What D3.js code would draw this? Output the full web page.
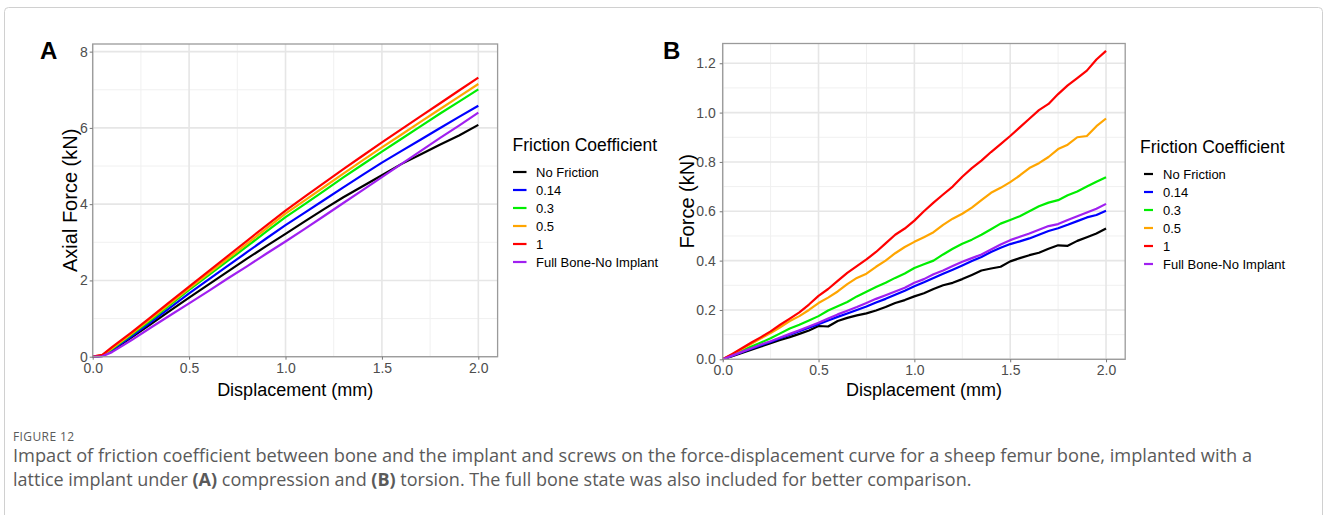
<!DOCTYPE html>
<html>
<head>
<meta charset="utf-8">
<script src="https://cdn.jsdelivr.net/npm/d3@7"></script>
<style>
  body { margin: 0; background: #fff; }
  svg text { font-family: "Liberation Sans", Arial, sans-serif; }
  .caption text { font-family: "Open Sans", "Noto Sans", sans-serif; }
</style>
</head>
<body>
<svg id="chart" width="1328" height="515"></svg>
<script>
// legend entries, drawn in this order
const seriesNames = ["No Friction", "0.14", "0.3", "0.5", "1", "Full Bone-No Implant"];
const seriesColors = ["#000000", "#0000ff", "#00ee00", "#ffa500", "#ff0000", "#a020f0"];

// panel A: compression, axial force (kN) vs displacement (mm)
const dispA = [0, 0.05, 0.1, 0.2, 0.3, 0.4, 0.5, 0.6, 0.7, 0.8, 0.9, 1.0, 1.1, 1.2, 1.3, 1.4, 1.5, 1.6, 1.7, 1.8, 1.9, 2.0];
const forceA_none = [0, 0.02, 0.16, 0.5, 0.85, 1.2, 1.55, 1.89, 2.23, 2.57, 2.9, 3.22, 3.55, 3.87, 4.18, 4.47, 4.76, 5.05, 5.3, 5.56, 5.8, 6.08];
const forceA_014 = [0, 0.02, 0.18, 0.53, 0.9, 1.28, 1.66, 2.02, 2.38, 2.74, 3.1, 3.45, 3.78, 4.11, 4.44, 4.77, 5.09, 5.39, 5.69, 5.99, 6.29, 6.58];
const forceA_03 = [0, 0.03, 0.2, 0.57, 0.95, 1.35, 1.75, 2.13, 2.51, 2.89, 3.28, 3.66, 4.0, 4.35, 4.7, 5.04, 5.38, 5.71, 6.04, 6.37, 6.69, 7.01];
const forceA_05 = [0, 0.04, 0.22, 0.6, 0.99, 1.39, 1.79, 2.18, 2.57, 2.96, 3.36, 3.75, 4.1, 4.45, 4.8, 5.15, 5.49, 5.82, 6.16, 6.49, 6.82, 7.15];
const forceA_1 = [0, 0.05, 0.25, 0.63, 1.03, 1.44, 1.84, 2.24, 2.64, 3.04, 3.44, 3.83, 4.2, 4.56, 4.92, 5.27, 5.62, 5.96, 6.3, 6.64, 6.98, 7.32];
const forceA_full = [0, 0.01, 0.12, 0.43, 0.76, 1.08, 1.4, 1.72, 2.05, 2.37, 2.7, 3.02, 3.35, 3.69, 4.03, 4.37, 4.71, 5.05, 5.39, 5.73, 6.06, 6.4];

// panel B: torsion, force (kN) vs displacement (mm)
const dispB = [0, 0.05, 0.1, 0.15, 0.2, 0.25, 0.3, 0.35, 0.4, 0.45, 0.5, 0.55, 0.6, 0.65, 0.7, 0.75, 0.8, 0.85, 0.9, 0.95, 1.0,
  1.05, 1.1, 1.15, 1.2, 1.25, 1.3, 1.35, 1.4, 1.45, 1.5, 1.55, 1.6, 1.65, 1.7, 1.75, 1.8, 1.85, 1.9, 1.95, 2.0];
const forceB_none = [0, 0.013, 0.026, 0.039, 0.052, 0.065, 0.078, 0.09, 0.103, 0.117, 0.135, 0.133, 0.155, 0.168, 0.178, 0.186, 0.198, 0.212, 0.228, 0.24, 0.255,
  0.268, 0.285, 0.3, 0.31, 0.325, 0.342, 0.36, 0.368, 0.375, 0.397, 0.41, 0.422, 0.432, 0.448, 0.462, 0.46, 0.48, 0.495, 0.51, 0.53];
const forceB_014 = [0, 0.015, 0.029, 0.043, 0.057, 0.07, 0.085, 0.1, 0.114, 0.128, 0.142, 0.157, 0.172, 0.186, 0.2, 0.214, 0.23, 0.245, 0.262, 0.278, 0.296,
  0.312, 0.33, 0.347, 0.363, 0.38, 0.398, 0.415, 0.435, 0.452, 0.467, 0.478, 0.49, 0.505, 0.52, 0.531, 0.545, 0.56, 0.575, 0.585, 0.602];
const forceB_03 = [0, 0.017, 0.035, 0.052, 0.068, 0.085, 0.105, 0.125, 0.14, 0.157, 0.175, 0.198, 0.215, 0.232, 0.255, 0.274, 0.293, 0.31, 0.33, 0.348, 0.37,
  0.385, 0.4, 0.425, 0.448, 0.468, 0.485, 0.505, 0.527, 0.55, 0.565, 0.58, 0.6, 0.62, 0.635, 0.645, 0.665, 0.68, 0.7, 0.72, 0.738];
const forceB_05 = [0, 0.02, 0.042, 0.063, 0.085, 0.106, 0.13, 0.155, 0.175, 0.2, 0.228, 0.25, 0.275, 0.305, 0.33, 0.347, 0.375, 0.4, 0.43, 0.455, 0.476,
  0.495, 0.515, 0.545, 0.57, 0.59, 0.615, 0.645, 0.675, 0.695, 0.718, 0.745, 0.775, 0.795, 0.82, 0.852, 0.87, 0.9, 0.905, 0.945, 0.976];
const forceB_1 = [0, 0.022, 0.045, 0.068, 0.09, 0.113, 0.14, 0.165, 0.19, 0.222, 0.257, 0.285, 0.318, 0.35, 0.378, 0.405, 0.435, 0.47, 0.505, 0.53, 0.562,
  0.6, 0.635, 0.668, 0.7, 0.74, 0.775, 0.805, 0.84, 0.872, 0.905, 0.94, 0.975, 1.01, 1.035, 1.075, 1.11, 1.14, 1.17, 1.215, 1.25];
const forceB_full = [0, 0.015, 0.03, 0.045, 0.06, 0.073, 0.088, 0.103, 0.118, 0.133, 0.148, 0.165, 0.182, 0.197, 0.212, 0.228, 0.245, 0.26, 0.275, 0.29, 0.31,
  0.325, 0.345, 0.36, 0.378, 0.395, 0.41, 0.425, 0.445, 0.465, 0.483, 0.497, 0.51, 0.525, 0.54, 0.548, 0.565, 0.58, 0.595, 0.61, 0.63];

const xTicks = [0, 0.5, 1.0, 1.5, 2.0];
const xMinor = [0.25, 0.75, 1.25, 1.75];
const yTicksA = [0, 2, 4, 6, 8];
const yMinorA = [1, 3, 5, 7];
const yTicksB = [0, 0.2, 0.4, 0.6, 0.8, 1.0, 1.2];
const yMinorB = [0.1, 0.3, 0.5, 0.7, 0.9, 1.1];

const svg = d3.select("#chart");

// light page frame
svg.append("rect")
  .attr("x", 4.5).attr("y", 7.5)
  .attr("width", 1318).attr("height", 540)
  .attr("rx", 4)
  .attr("fill", "none")
  .attr("stroke", "#d0d0d0");

function drawPanel(p) {
  const x = d3.scaleLinear().domain([0, 2.1]).range([p.left, p.right]);
  const y = d3.scaleLinear().domain([0, p.yMax]).range([p.bottom, p.top]);
  const g = svg.append("g");

  // grid
  g.selectAll(".vminor").data(xMinor).enter().append("line")
    .attr("x1", d => x(d)).attr("x2", d => x(d))
    .attr("y1", p.top).attr("y2", p.bottom)
    .attr("stroke", "#f0f0f0").attr("stroke-width", 1);
  g.selectAll(".hminor").data(p.yMinor).enter().append("line")
    .attr("x1", p.left).attr("x2", p.right)
    .attr("y1", d => y(d)).attr("y2", d => y(d))
    .attr("stroke", "#f0f0f0").attr("stroke-width", 1);
  g.selectAll(".vmajor").data(xTicks).enter().append("line")
    .attr("x1", d => x(d)).attr("x2", d => x(d))
    .attr("y1", p.top).attr("y2", p.bottom)
    .attr("stroke", "#e6e6e6").attr("stroke-width", 1.6);
  g.selectAll(".hmajor").data(p.yTicks).enter().append("line")
    .attr("x1", p.left).attr("x2", p.right)
    .attr("y1", d => y(d)).attr("y2", d => y(d))
    .attr("stroke", "#e6e6e6").attr("stroke-width", 1.6);

  // curves
  const line = d3.line()
    .x(d => x(d[0]))
    .y(d => y(d[1]));
  p.series.forEach((vals, i) => {
    g.append("path")
      .datum(p.disp.map((d, j) => [d, vals[j]]))
      .attr("d", line)
      .attr("fill", "none")
      .attr("stroke", seriesColors[i])
      .attr("stroke-width", 2.2)
      .attr("stroke-linejoin", "round");
  });

  // panel border
  g.append("rect")
    .attr("x", p.left).attr("y", p.top)
    .attr("width", p.right - p.left).attr("height", p.bottom - p.top)
    .attr("fill", "none")
    .attr("stroke", "#9a9a9a")
    .attr("stroke-width", 1.3);

  // axes
  const xAxis = g.append("g")
    .attr("transform", "translate(0," + p.bottom + ")")
    .call(d3.axisBottom(x).tickValues(xTicks).tickFormat(d3.format(".1f")).tickSize(3).tickPadding(3));
  const yAxis = g.append("g")
    .attr("transform", "translate(" + p.left + ",0)")
    .call(d3.axisLeft(y).tickValues(p.yTicks).tickFormat(p.yFormat).tickSize(3).tickPadding(p.yPad));
  [xAxis, yAxis].forEach(a => {
    a.select(".domain").remove();
    a.selectAll("line").attr("stroke", "#777");
    a.selectAll("text")
      .attr("fill", "#4d4d4d")
      .style("font-size", "14px")
      .style("font-family", "'Liberation Sans', Arial, sans-serif");
  });

  // axis titles
  g.append("text")
    .attr("x", (p.left + p.right) / 2).attr("y", 396)
    .attr("text-anchor", "middle")
    .style("font-size", "18px")
    .text("Displacement (mm)");
  g.append("text")
    .attr("transform", "translate(" + p.yTitleX + "," + ((p.top + p.bottom) / 2) + ") rotate(-90)")
    .attr("text-anchor", "middle")
    .attr("dy", "0.35em")
    .style("font-size", "20px")
    .text(p.yTitle);

  // panel letter
  g.append("text")
    .attr("x", p.letterX).attr("y", 59)
    .style("font-size", "24px")
    .style("font-weight", "bold")
    .text(p.letter);

  // legend
  const lg = g.append("g").attr("transform", "translate(" + p.legendX + "," + p.legendY + ")");
  lg.append("text")
    .attr("x", 0).attr("y", 0)
    .style("font-size", "17.5px")
    .text("Friction Coefficient");
  seriesNames.forEach((name, i) => {
    const cy = 21 + i * 18;
    lg.append("line")
      .attr("x1", p.keyX1).attr("x2", p.keyX2)
      .attr("y1", cy).attr("y2", cy)
      .attr("stroke", seriesColors[i])
      .attr("stroke-width", 2.2);
    lg.append("text")
      .attr("x", p.keyTextX).attr("y", cy + 4.7)
      .style("font-size", "13px")
      .text(name);
  });
}

drawPanel({
  letter: "A", letterX: 40,
  left: 92.7, right: 497.6, top: 44, bottom: 356.7,
  yMax: 8.2, yTicks: yTicksA, yMinor: yMinorA, yFormat: d3.format("d"), yPad: 2,
  yTitle: "Axial Force (kN)", yTitleX: 70,
  disp: dispA,
  series: [forceA_none, forceA_014, forceA_03, forceA_05, forceA_1, forceA_full],
  legendX: 512.5, legendY: 151, keyX1: 0.5, keyX2: 14, keyTextX: 23.5
});

drawPanel({
  letter: "B", letterX: 663,
  left: 722.7, right: 1125.2, top: 43.5, bottom: 359.3,
  yMax: 1.28, yTicks: yTicksB, yMinor: yMinorB, yFormat: d3.format(".1f"), yPad: 4,
  yTitle: "Force (kN)", yTitleX: 687,
  disp: dispB,
  series: [forceB_none, forceB_014, forceB_03, forceB_05, forceB_1, forceB_full],
  legendX: 1140, legendY: 153, keyX1: 4, keyX2: 13, keyTextX: 23
});

// caption
const cap = svg.append("g").attr("class", "caption");
cap.append("text")
  .attr("x", 13).attr("y", 441)
  .attr("fill", "#5a5a5a")
  .style("font-size", "12px")
  .style("letter-spacing", "0.4px")
  .text("FIGURE 12");
cap.append("text")
  .attr("x", 13).attr("y", 461.5)
  .attr("fill", "#5a5a5a")
  .style("font-size", "18px")
  .attr("textLength", 1239)
  .attr("lengthAdjust", "spacingAndGlyphs")
  .text("Impact of friction coefficient between bone and the implant and screws on the force-displacement curve for a sheep femur bone, implanted with a");
const cap2 = cap.append("text")
  .attr("x", 13).attr("y", 485.5)
  .attr("fill", "#5a5a5a")
  .style("font-size", "18px");
cap2.append("tspan").text("lattice implant under ");
cap2.append("tspan").style("font-weight", "bold").text("(A)");
cap2.append("tspan").text(" compression and ");
cap2.append("tspan").style("font-weight", "bold").text("(B)");
cap2.append("tspan").text(" torsion. The full bone state was also included for better comparison.");
</script>
</body>
</html>
